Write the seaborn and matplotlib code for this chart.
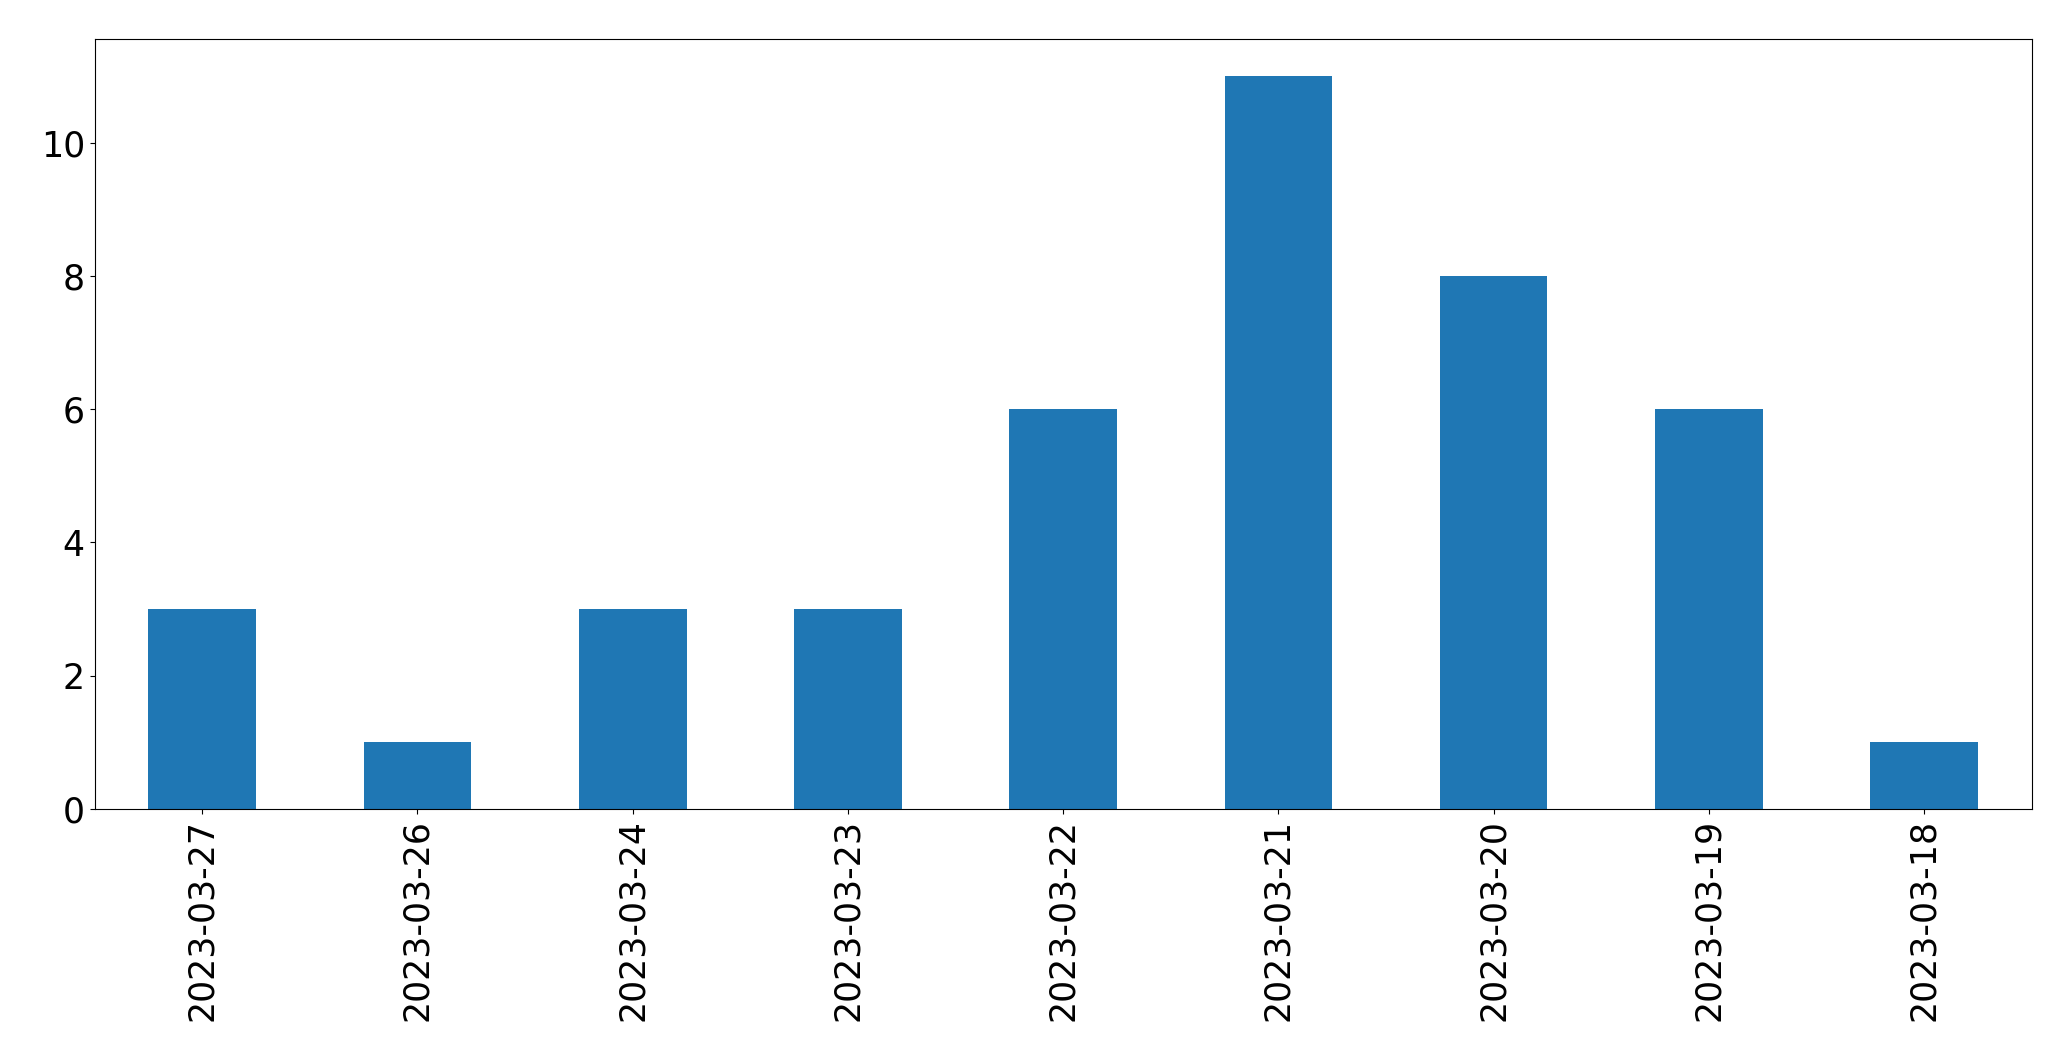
import matplotlib
matplotlib.use("Agg")
import matplotlib.pyplot as plt
import seaborn as sns
import pandas as pd

dates = ["2023-03-27", "2023-03-26", "2023-03-24", "2023-03-23", "2023-03-22",
         "2023-03-21", "2023-03-20", "2023-03-19", "2023-03-18"]
counts = [3, 1, 3, 3, 6, 11, 8, 6, 1]

df = pd.DataFrame({"date": dates, "count": counts})

fig = plt.figure(figsize=(20.71, 10.61), dpi=100)
ax = fig.add_axes([0.0457, 0.2375, 0.9353, 0.7255])
sns.barplot(data=df, x="date", y="count", order=dates, color="#1f77b4",
            saturation=1, width=0.5, ax=ax)
ax.set_xlim(-0.5, len(dates) - 0.5)
ax.set_ylim(0, max(counts) * 1.05)
ax.set_xlabel("")
ax.set_ylabel("")
ax.tick_params(axis="x", labelrotation=90, labelsize=25)
ax.tick_params(axis="y", labelsize=25)
fig.savefig("out.png", dpi=100)
